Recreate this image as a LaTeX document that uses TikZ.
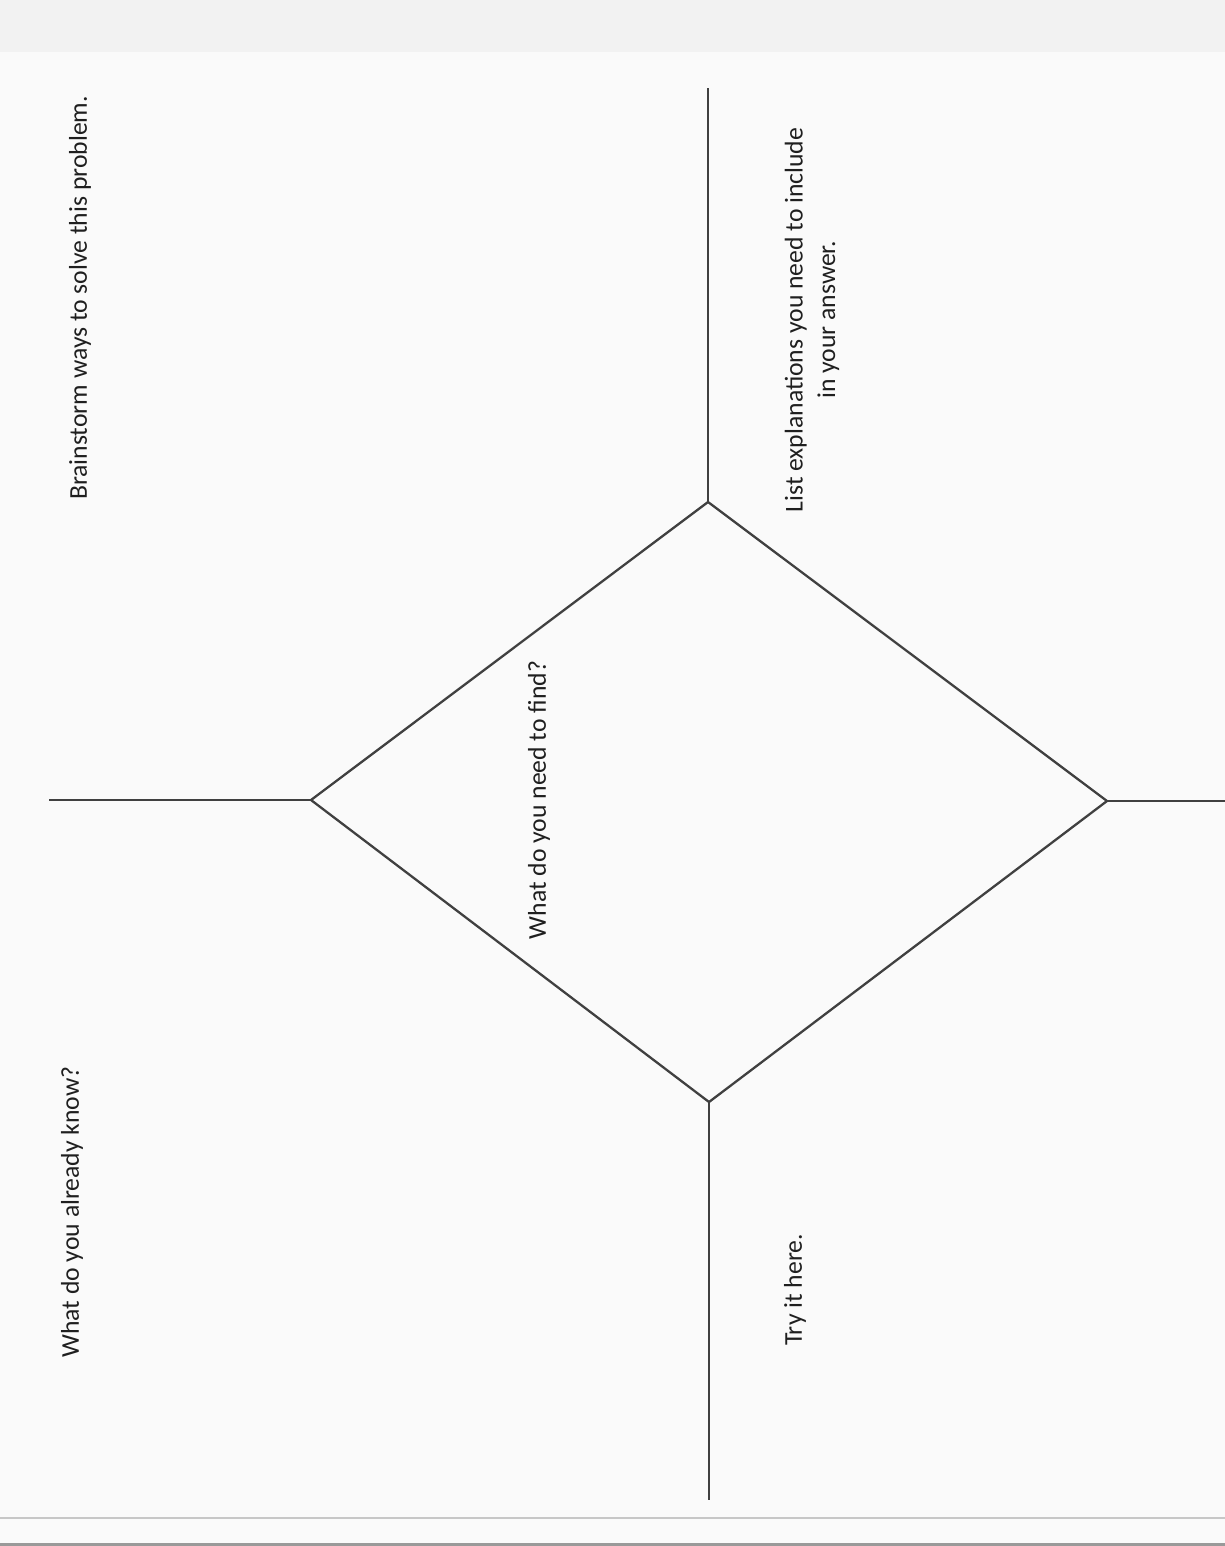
\documentclass[tikz,border=0pt]{standalone}
\usepackage{fontspec}
\setmainfont{Carlito}
\begin{document}
\begin{tikzpicture}[x=0.01cm,y=-0.01cm,
  rule/.style={draw=black!75, line width=0.65pt},
  prompt/.style={rotate=90, inner sep=0pt, font=\fontsize{7.3}{9.2}\selectfont, text=black!88, align=center},
]
\fill[black!2] (0,0) rectangle (1225,1546);
\useasboundingbox (0,0) rectangle (1225,1546);
\fill[black!5] (0,0) rectangle (1225,52);
\draw[black!22, line width=0.7pt] (0,1518) -- (1225,1518);
\fill[black!40] (0,1543) rectangle (1225,1546);

\coordinate (T) at (708,502);
\coordinate (L) at (311,800);
\coordinate (B) at (709,1102);
\coordinate (R) at (1107,801);
\coordinate (Tend) at (708,88);
\coordinate (Lend) at (49,800);
\coordinate (Bend) at (709,1500);
\coordinate (Rend) at (1225,801);

\draw[rule] (T) -- (L) -- (B) -- (R) -- cycle;
\draw[rule] (T) -- (Tend);
\draw[rule] (L) -- (Lend);
\draw[rule] (B) -- (Bend);
\draw[rule] (R) -- (Rend);

\node[prompt] (know) at (72,1212) {What do you already know?};
\node[prompt] (brain) at (80,298) {Brainstorm ways to solve this problem.};
\node[prompt] (find) at (539,800) {What do you need to find?};
\node[prompt] (list) at (812,320) {List explanations you need to include\\in your answer.};
\node[prompt] (try) at (795,1290) {Try it here.};
\end{tikzpicture}
\end{document}
